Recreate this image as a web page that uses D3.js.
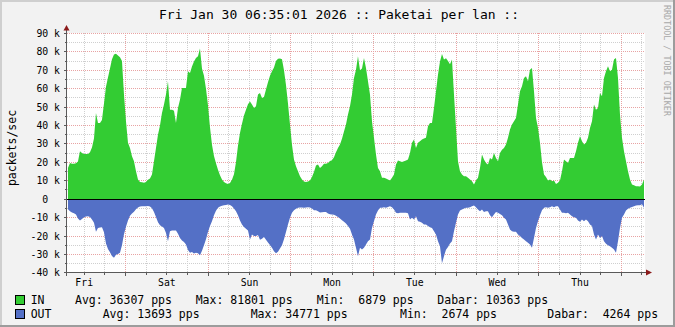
<!DOCTYPE html>
<html>
<head>
<meta charset="utf-8">
<script src="https://cdn.jsdelivr.net/npm/d3@7"></script>
<style>
  html, body { margin: 0; padding: 0; background: #f2f2f2; }
  svg { display: block; }
  text { font-family: "DejaVu Sans Mono", monospace; }
</style>
</head>
<body>
<svg id="chart" width="675" height="327"></svg>
<script>
// Incoming packets per second (thousands), evenly spaced samples
const inKpps = [
  17, 19.7, 19.3, 19.2, 19.5, 20.5, 26, 25.1, 24.6, 24.6,
  24.6, 25.5, 28, 33, 46.8, 41.4, 41.4, 43, 52, 61,
  66, 71, 76, 78.5, 79, 78, 77, 75, 56.8, 42.3,
  30.6, 27.8, 23.3, 20.6, 15.2, 10.7, 9.4, 9.2, 8.9, 9.4,
  10.5, 11.2, 13.4, 20.6, 27.8, 35, 40, 46.8, 51.4, 56.8,
  64, 48.5, 48.6, 48, 41.4, 49.5, 54, 60.4, 60.4, 60.4,
  69.4, 68.5, 72, 74.8, 76.7, 77.6, 81.8, 71, 67, 60,
  51, 39, 29.5, 23.5, 19.5, 16, 13, 10.7, 9.3, 8.6,
  8.3, 8.8, 10.5, 13.5, 20, 29, 36, 41, 45.5, 48.6,
  51.5, 53, 51.4, 49.5, 50.5, 56.8, 57.7, 55, 55.5, 59.5,
  63.5, 67, 69.4, 71.5, 75, 76.2, 76.4, 76, 70, 62,
  52, 40.5, 29.5, 21.5, 17.9, 15.2, 12.5, 10.7, 9.6, 9.4,
  9.6, 10.2, 12, 14.8, 18.3, 18.8, 17, 17.9, 19.2, 19.2,
  19.7, 20.8, 21.2, 22.8, 25.5, 27.8, 29.7, 32.8, 36.8, 40.5,
  46, 50.5, 56.8, 65.8, 70.3, 77.6, 70, 71, 76.7, 71.2,
  64, 56.8, 42.3, 33.3, 24.2, 17, 15.2, 11.6, 11.6, 11.2,
  10.7, 10.1, 11.6, 13.4, 18.8, 21, 20.6, 20.2, 20.6, 21,
  21.5, 25.1, 30.6, 32.4, 27.8, 30.6, 31.5, 32.4, 32.9, 33.3,
  39.6, 41.4, 41.4, 49.5, 58.6, 67.6, 74.8, 78.8, 75.8, 76.5,
  75, 73.2, 75.8, 56.8, 38.7, 20.6, 15.2, 13.4, 12.5, 12.5,
  11.6, 10.7, 9.8, 8, 10.1, 11.6, 17, 24.2, 21.5, 19.7,
  18.8, 22.4, 21.5, 25.1, 22.4, 20.6, 25.1, 26.9, 27.8, 29.7,
  33.3, 37.8, 40.5, 42.3, 44.1, 51.4, 58.6, 61.3, 65.8, 66.7,
  64, 70.3, 71.2, 58.6, 44.1, 38.7, 30.6, 20, 13.4, 12,
  10.1, 10.7, 9.8, 10.1, 8.3, 8.9, 10.1, 15.2, 21.5, 20.6,
  19.7, 22.4, 22.4, 22.4, 26, 30.6, 34.2, 31.5, 29.7, 30.6,
  33.3, 38.7, 42.3, 51.4, 48.6, 49.5, 57.7, 55.9, 65.8, 69.4,
  72.2, 69.4, 70.3, 75.8, 76.7, 65.8, 45.9, 33.3, 26, 20.6,
  15.2, 10.7, 8, 7.6, 7.1, 7.1, 6.9, 8, 10.7
];

// Outgoing packets per second (thousands), same sample times; drawn below zero
const outKpps = [
  5.5, 6.5, 7.2, 7.6, 8.3, 10.5, 11.6, 10.8, 9.8, 9.4,
  9.2, 9.6, 11, 12.8, 17.7, 15.6, 15.3, 15.2, 18, 24,
  27, 28.8, 30.8, 31.8, 30.2, 29.8, 29, 25, 19, 15,
  11.5, 9, 7.8, 6.8, 5.4, 4.5, 4, 3.8, 3.8, 3.8,
  3.7, 4, 4.9, 7, 9.6, 12.5, 14.1, 14.8, 15.6, 18.3,
  22.8, 17.4, 17, 17, 17, 18.7, 21, 22.4, 23.2, 24.6,
  27.6, 29, 28.6, 29.5, 29.1, 29.3, 30.4, 28, 25, 21.8,
  17.8, 14.6, 12, 8.7, 6.2, 4.7, 4, 3.6, 3.3, 3.1,
  2.9, 3.1, 3.8, 5, 6.5, 8.7, 11.5, 13.7, 15.1, 16,
  17, 21.9, 19.2, 20, 20, 19.4, 22, 21.4, 20.5, 22,
  23.5, 24.8, 26.4, 28.2, 29.4, 28.5, 26.8, 25, 21.8, 17.8,
  13.7, 10.1, 7.4, 6, 5.2, 4.7, 4.5, 4.5, 4.7, 4.5,
  4.3, 4.5, 5.1, 6, 6, 6.5, 7.2, 7.1, 7, 7,
  7.7, 8.1, 8.3, 8.5, 9, 9.6, 10.5, 11.4, 12.3, 13.2,
  14.6, 16, 19.2, 21.9, 26.4, 30.9, 26.4, 27.3, 26.4, 24.6,
  22.8, 21.9, 15.6, 11.9, 8.3, 6.1, 4.7, 4.7, 4.3, 4.7,
  4.2, 3.8, 4.3, 5.6, 7.4, 7.6, 7.4, 7.4, 7.4, 7.4,
  7.6, 11, 10.1, 11, 9.2, 11.9, 12.3, 12.8, 13.7, 13.7,
  14.6, 15.2, 15.6, 17.4, 19.2, 22.8, 25.5, 34.8, 30.9, 27.5,
  26, 24, 22.8, 17.4, 12.8, 8.3, 6.1, 5.6, 5.1, 4.7,
  4.7, 4.3, 3.8, 3.4, 4.3, 5.6, 6.5, 5.6, 6.9, 6.5,
  6.5, 8.7, 9.8, 8.3, 6.9, 7.4, 8, 8.7, 10.1, 11,
  13.7, 16.5, 17.4, 17.7, 17.7, 19.2, 20, 21, 21.9, 22.8,
  23.7, 24.6, 26.4, 21, 15.6, 11.9, 8.7, 6, 4.7, 4.3,
  4.7, 4.3, 3.8, 4.3, 3.8, 3.8, 5.6, 7.4, 7.4, 7.6,
  7.4, 8.3, 9.2, 9.8, 10.1, 11.6, 12.3, 11, 11.9, 11,
  11.9, 13.7, 14.6, 19.2, 21.9, 19.2, 21, 20, 22.8, 24.2,
  25, 25.5, 26.4, 27.3, 29.1, 22.8, 15.6, 10.1, 8.3, 6.1,
  5.2, 4.7, 4.2, 3.8, 3.4, 3.3, 3.3, 2.7, 4.7
];

// Time span of the samples and of the graph
const firstSample = new Date(2026, 0, 23, 7, 17);
const lastSample  = new Date(2026, 0, 30, 6, 35);
const axisStart   = new Date(2026, 0, 23, 7, 0);
const axisEnd     = new Date(2026, 0, 30, 7, 10);

// Value axis (thousands of packets/sec)
const yMajorTicks = [-40, -30, -20, -10, 0, 10, 20, 30, 40, 50, 60, 70, 80, 90];
const yMinorTicks = [-35, -25, -15, -5, 5, 15, 25, 35, 45, 55, 65, 75, 85];

const titleText = "Fri Jan 30 06:35:01 2026 :: Paketai per lan ::";
const yTitle = "packets/sec";
const watermark = "RRDTOOL / TOBI OETIKER";

const seriesNames  = ["IN", "OUT"];
const seriesColors = ["#33cc33", "#5470c6"];
const legendStats = [
  ["Avg: 36307 pps", "Max: 81801 pps", "Min:  6879 pps", "Dabar: 10363 pps"],
  ["Avg: 13693 pps", "Max: 34771 pps", "Min:  2674 pps", "Dabar:  4264 pps"]
];

// ---------------------------------------------------------------
const W = 675, H = 327;
const plot = { left: 67, right: 646, top: 33.4, bottom: 272.9 };
const svg = d3.select("#chart");

const x = d3.scaleTime().domain([axisStart, axisEnd]).range([plot.left, plot.right]);
const y = d3.scaleLinear().domain([-40, 90]).range([plot.bottom, plot.top]);
const px = v => Math.floor(v) + 0.5;

// canvas and frame
svg.append("rect").attr("width", W).attr("height", H).attr("fill", "#f2f2f2");
svg.append("path").attr("d", `M0,${H} L0,0 L${W},0`).attr("fill", "none")
  .attr("stroke", "#cfcfcf").attr("stroke-width", 4);
svg.append("path").attr("d", `M${W},0 L${W},${H} L0,${H}`).attr("fill", "none")
  .attr("stroke", "#9c9c9c").attr("stroke-width", 4);

// plot background
svg.append("rect").attr("x", plot.left).attr("y", Math.floor(plot.top))
  .attr("width", 645 - plot.left).attr("height", Math.ceil(plot.bottom) - Math.floor(plot.top))
  .attr("fill", "#ffffff");

// grid
const grid = svg.append("g").attr("fill", "none").attr("stroke-width", 1)
  .attr("shape-rendering", "crispEdges");
const gx0 = plot.left, gx1 = 645;
const midnights = d3.timeDay.range(d3.timeDay.ceil(axisStart), axisEnd);
const sixHours = d3.timeHour.every(6).range(axisStart, axisEnd)
  .filter(d => d.getHours() !== 0);

yMinorTicks.forEach(v => grid.append("line")
  .attr("x1", gx0).attr("x2", gx1).attr("y1", px(y(v))).attr("y2", px(y(v)))
  .attr("stroke", "#cfcfcf").attr("stroke-dasharray", "1,1"));
sixHours.forEach(d => grid.append("line")
  .attr("x1", px(x(d))).attr("x2", px(x(d))).attr("y1", plot.top).attr("y2", plot.bottom)
  .attr("stroke", "#cfcfcf").attr("stroke-dasharray", "1,1"));
yMajorTicks.filter(v => v !== -40 && v !== 0).forEach(v => grid.append("line")
  .attr("x1", gx0).attr("x2", gx1).attr("y1", px(y(v))).attr("y2", px(y(v)))
  .attr("stroke", "#e8a3a3").attr("stroke-dasharray", "1,1"));
midnights.forEach(d => grid.append("line")
  .attr("x1", px(x(d))).attr("x2", px(x(d))).attr("y1", plot.top).attr("y2", plot.bottom)
  .attr("stroke", "#e8a3a3").attr("stroke-dasharray", "1,1"));

// samples
const n = inKpps.length;
const span = lastSample - firstSample;
const times = d3.range(n).map(i => new Date(+firstSample + span * i / (n - 1)));
const inData  = inKpps.map((v, i) => ({ t: times[i], v }));
const outData = outKpps.map((v, i) => ({ t: times[i], v: -v }));

const area = d3.area().x(d => x(d.t)).y0(y(0)).y1(d => y(d.v));
svg.append("path").datum(inData).attr("d", area).attr("fill", seriesColors[0]);
svg.append("path").datum(outData).attr("d", area).attr("fill", seriesColors[1]);

// zero line
svg.append("line").attr("x1", gx0).attr("x2", gx1)
  .attr("y1", px(y(0))).attr("y2", px(y(0)))
  .attr("stroke", "#000").attr("shape-rendering", "crispEdges");

// axes with ticks
const axisColor = "#5a5a5a", arrowColor = "#8b1a1a";
const ax = svg.append("g").attr("stroke", axisColor).attr("shape-rendering", "crispEdges");
const xAxisY = px(y(-40)), yAxisX = px(plot.left) - 1;
ax.append("line").attr("x1", yAxisX - 3).attr("x2", 648).attr("y1", xAxisY).attr("y2", xAxisY);
ax.append("line").attr("x1", yAxisX).attr("x2", yAxisX).attr("y1", xAxisY + 3).attr("y2", 29);
yMajorTicks.forEach(v => ax.append("line")
  .attr("x1", yAxisX - 3).attr("x2", yAxisX).attr("y1", px(y(v))).attr("y2", px(y(v))));
yMinorTicks.forEach(v => ax.append("line")
  .attr("x1", yAxisX - 2).attr("x2", yAxisX).attr("y1", px(y(v))).attr("y2", px(y(v))));
midnights.forEach(d => ax.append("line")
  .attr("x1", px(x(d))).attr("x2", px(x(d))).attr("y1", xAxisY).attr("y2", xAxisY + 3));
sixHours.forEach(d => ax.append("line")
  .attr("x1", px(x(d))).attr("x2", px(x(d))).attr("y1", xAxisY).attr("y2", xAxisY + 2));

// arrow heads
svg.append("path").attr("fill", arrowColor)
  .attr("d", `M${yAxisX - 3},${30.5} L${yAxisX + 3},${30.5} L${yAxisX},${25} Z`);
svg.append("path").attr("fill", arrowColor)
  .attr("d", `M${646},${xAxisY - 3} L${646},${xAxisY + 3} L${652},${xAxisY} Z`);

// value labels
const fmtK = v => v === 0 ? "0  " : `${v} k`;
svg.append("g").selectAll("text").data(yMajorTicks).join("text")
  .attr("x", 60).attr("y", v => y(v) + 3.5)
  .attr("text-anchor", "end").style("white-space", "pre")
  .attr("font-size", "9.8px").attr("fill", "#000").text(fmtK);

// day labels at noon
const noons = d3.timeDay.range(d3.timeDay.floor(axisStart), d3.timeDay.floor(axisEnd))
  .map(d => d3.timeHour.offset(d, 12))
  .filter(d => d >= axisStart && d <= axisEnd);
const fmtDay = d3.timeFormat("%a");
svg.append("g").selectAll("text").data(noons).join("text")
  .attr("x", d => x(d)).attr("y", 285.5).attr("text-anchor", "middle")
  .attr("font-size", "9.8px").attr("fill", "#000").text(fmtDay);

// title
svg.append("text").attr("x", 339).attr("y", 18.5).attr("text-anchor", "middle")
  .attr("font-size", "13px").attr("fill", "#000").text(titleText);

// vertical axis title
svg.append("text").attr("transform", "translate(15.5,148) rotate(-90)")
  .attr("text-anchor", "middle").attr("font-size", "11.5px").attr("fill", "#000").text(yTitle);

// side credit
svg.append("text").attr("transform", "translate(663.5,5) rotate(90)")
  .attr("text-anchor", "start").attr("font-size", "8.4px").attr("fill", "#a8a8a8").text(watermark);

// legend
const legendRowY = [303.5, 317.5];
const legendCols = [[75, 195.7, 316.7, 437.3], [102.7, 250.7, 400, 547.3]];
seriesNames.forEach((name, r) => {
  const by = legendRowY[r];
  svg.append("rect").attr("x", 15.5).attr("y", by - 8).attr("width", 9).attr("height", 9)
    .attr("fill", seriesColors[r]).attr("stroke", "#000").attr("shape-rendering", "crispEdges");
  svg.append("text").attr("x", 30.7).attr("y", by).attr("font-size", "11.5px")
    .attr("fill", "#000").text(name);
  legendStats[r].forEach((s, c) => svg.append("text")
    .attr("x", legendCols[r][c]).attr("y", by).attr("font-size", "11.5px")
    .style("white-space", "pre").attr("fill", "#000").text(s));
});
</script>
</body>
</html>
